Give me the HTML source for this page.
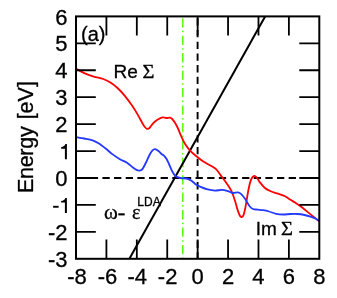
<!DOCTYPE html>
<html><head><meta charset="utf-8">
<style>
html,body{margin:0;padding:0;background:#fff;}
svg{display:block}
text{font-family:"Liberation Sans",sans-serif;fill:#000;stroke:#000;stroke-width:0.3px}
.sym{font-family:"Liberation Serif",serif}
</style></head><body>
<svg style="will-change:transform" width="337" height="298" viewBox="0 0 337 298">
<rect width="337" height="298" fill="#fff"/>
<line x1="182.8" y1="16.4" x2="182.8" y2="258.8" stroke="#55ff00" stroke-width="1.5" stroke-dasharray="9.3 3.32 1.5 3.32" stroke-dashoffset="15.6"/>
<line x1="76.0" y1="178.00" x2="319.3" y2="178.00" stroke="#000" stroke-width="1.9" stroke-dasharray="7.3 4.34" stroke-dashoffset="8.5"/>
<line x1="197.6" y1="16.4" x2="197.6" y2="258.8" stroke="#000" stroke-width="1.9" stroke-dasharray="7.3 4.4" stroke-dashoffset="9.8"/>
<line x1="129.4" y1="258.8" x2="265.1" y2="16.4" stroke="#000" stroke-width="2"/>
<path fill="none" stroke="#ff0000" stroke-width="1.8" stroke-linejoin="round" d="M75.70,68.50 C77.12,69.27 81.20,71.75 84.20,73.10 C87.20,74.45 90.53,75.62 93.70,76.60 C96.87,77.58 100.42,78.00 103.20,79.00 C105.98,80.00 108.02,81.10 110.40,82.60 C112.78,84.10 115.13,85.83 117.50,88.00 C119.87,90.17 122.23,92.75 124.60,95.60 C126.97,98.45 129.52,101.93 131.70,105.10 C133.88,108.27 135.92,111.58 137.70,114.60 C139.48,117.62 141.25,121.17 142.40,123.20 C143.55,125.23 143.85,125.87 144.60,126.80 C145.35,127.73 146.08,128.60 146.90,128.80 C147.72,129.00 148.47,128.92 149.50,128.00 C150.53,127.08 151.72,124.72 153.10,123.30 C154.48,121.88 156.25,120.48 157.80,119.50 C159.35,118.52 161.00,117.65 162.40,117.40 C163.80,117.15 164.97,117.97 166.20,118.00 C167.43,118.03 168.80,117.43 169.80,117.60 C170.80,117.77 171.33,118.13 172.20,119.00 C173.07,119.87 174.03,121.22 175.00,122.80 C175.97,124.38 176.92,126.17 178.00,128.50 C179.08,130.83 180.32,134.23 181.50,136.80 C182.68,139.37 183.70,141.65 185.10,143.90 C186.50,146.15 188.12,148.32 189.90,150.30 C191.68,152.28 193.63,153.98 195.80,155.80 C197.97,157.62 200.53,159.62 202.90,161.20 C205.27,162.78 207.82,163.97 210.00,165.30 C212.18,166.63 214.18,167.48 216.00,169.20 C217.82,170.92 219.08,173.18 220.90,175.60 C222.72,178.02 225.12,181.07 226.90,183.70 C228.68,186.33 230.22,188.43 231.60,191.40 C232.98,194.37 234.20,198.42 235.20,201.50 C236.20,204.58 236.82,207.52 237.60,209.90 C238.38,212.28 239.23,214.62 239.90,215.80 C240.57,216.98 241.00,217.12 241.60,217.00 C242.20,216.88 242.87,216.68 243.50,215.10 C244.13,213.52 244.82,210.35 245.40,207.50 C245.98,204.65 246.45,201.17 247.00,198.00 C247.55,194.83 248.10,191.35 248.70,188.50 C249.30,185.65 249.97,182.80 250.60,180.90 C251.23,179.00 251.83,177.93 252.50,177.10 C253.17,176.27 253.85,175.78 254.60,175.90 C255.35,176.02 256.08,176.68 257.00,177.80 C257.92,178.92 258.78,180.90 260.10,182.60 C261.42,184.30 263.12,186.55 264.90,188.00 C266.68,189.45 268.63,190.35 270.80,191.30 C272.97,192.25 275.53,192.87 277.90,193.70 C280.27,194.53 282.82,195.23 285.00,196.30 C287.18,197.37 289.32,199.05 291.00,200.10 C292.68,201.15 293.23,201.37 295.10,202.60 C296.97,203.83 299.83,205.70 302.20,207.50 C304.57,209.30 307.12,211.63 309.30,213.40 C311.48,215.17 313.63,216.77 315.30,218.10 C316.97,219.43 318.63,220.85 319.30,221.40"/>
<path fill="none" stroke="#2438ff" stroke-width="1.8" stroke-linejoin="round" d="M75.70,137.00 C77.12,137.25 81.38,137.93 84.20,138.50 C87.02,139.07 90.22,139.60 92.60,140.40 C94.98,141.20 96.33,141.95 98.50,143.30 C100.67,144.65 103.23,146.65 105.60,148.50 C107.97,150.35 110.32,152.62 112.70,154.40 C115.08,156.18 117.52,157.82 119.90,159.20 C122.28,160.58 124.83,161.32 127.00,162.70 C129.17,164.08 131.32,166.30 132.90,167.50 C134.48,168.70 135.43,169.38 136.50,169.90 C137.57,170.42 138.32,170.73 139.30,170.60 C140.28,170.47 141.28,170.45 142.40,169.10 C143.52,167.75 144.82,164.85 146.00,162.50 C147.18,160.15 148.45,156.98 149.50,155.00 C150.55,153.02 151.38,151.58 152.30,150.60 C153.22,149.62 153.97,149.03 155.00,149.10 C156.03,149.17 157.43,150.18 158.50,151.00 C159.57,151.82 160.53,153.27 161.40,154.00 C162.27,154.73 162.83,154.57 163.70,155.40 C164.57,156.23 165.68,157.48 166.60,159.00 C167.52,160.52 168.22,162.37 169.20,164.50 C170.18,166.63 171.42,169.83 172.50,171.80 C173.58,173.77 174.38,175.27 175.70,176.30 C177.02,177.33 178.62,177.63 180.40,178.00 C182.18,178.37 184.62,178.10 186.40,178.50 C188.18,178.90 189.52,179.42 191.10,180.40 C192.68,181.38 194.32,183.33 195.90,184.40 C197.48,185.47 198.63,185.97 200.60,186.80 C202.57,187.63 205.32,188.77 207.70,189.40 C210.08,190.03 212.52,190.52 214.90,190.60 C217.28,190.68 219.83,189.80 222.00,189.90 C224.17,190.00 226.12,190.68 227.90,191.20 C229.68,191.72 231.02,192.80 232.70,193.00 C234.38,193.20 236.53,192.18 238.00,192.40 C239.47,192.62 240.30,193.20 241.50,194.30 C242.70,195.40 243.88,197.05 245.20,199.00 C246.52,200.95 248.10,204.33 249.40,206.00 C250.70,207.67 251.62,208.40 253.00,209.00 C254.38,209.60 256.03,209.40 257.70,209.60 C259.37,209.80 261.12,209.88 263.00,210.20 C264.88,210.52 266.82,210.90 269.00,211.50 C271.18,212.10 273.73,213.30 276.10,213.80 C278.47,214.30 280.82,214.47 283.20,214.50 C285.58,214.53 288.02,214.08 290.40,214.00 C292.78,213.92 295.13,213.83 297.50,214.00 C299.87,214.17 302.43,214.57 304.60,215.00 C306.77,215.43 308.72,216.02 310.50,216.60 C312.28,217.18 313.83,217.73 315.30,218.50 C316.77,219.27 318.63,220.75 319.30,221.20"/>
<rect x="76.0" y="16.4" width="243.30" height="242.40" fill="none" stroke="#000" stroke-width="2"/>
<path stroke="#000" stroke-width="1.8" fill="none" d="M106.41,258.80v-19.3 M106.41,16.40v19.1 M136.82,258.80v-19.3 M136.82,16.40v19.1 M167.24,258.80v-19.3 M167.24,16.40v19.1 M197.65,258.80v-19.3 M197.65,16.40v19.1 M228.06,258.80v-19.3 M228.06,16.40v19.1 M258.48,258.80v-19.3 M258.48,16.40v19.1 M288.89,258.80v-19.3 M288.89,16.40v19.1 M76.00,231.87h19.8 M319.30,231.87h-20 M76.00,204.93h19.8 M319.30,204.93h-20 M76.00,178.00h19.8 M319.30,178.00h-20 M76.00,151.07h19.8 M319.30,151.07h-20 M76.00,124.13h19.8 M319.30,124.13h-20 M76.00,97.20h19.8 M319.30,97.20h-20 M76.00,70.27h19.8 M319.30,70.27h-20 M76.00,43.33h19.8 M319.30,43.33h-20 "/>
<g font-size="22" text-anchor="end">
<text x="67.5" y="266.90">-3</text>
<text x="67.5" y="239.97">-2</text>
<text x="67.5" y="186.10">0</text>
<text x="67.5" y="132.23">2</text>
<text x="67.5" y="105.30">3</text>
<text x="67.5" y="78.37">4</text>
<text x="67.5" y="51.43">5</text>
<text x="67.5" y="24.50">6</text>
</g>
<path d="M66.90,213.03 v-15.1 h-1.5 c-0.5,1.8 -2.0,2.8 -4.3,3.1 v1.55 h3.8 v10.45 z" fill="#000"/>
<rect x="53.1" y="205.83" width="5.5" height="1.9" fill="#000"/>
<path d="M66.90,159.17 v-15.1 h-1.5 c-0.5,1.8 -2.0,2.8 -4.3,3.1 v1.55 h3.8 v10.45 z" fill="#000"/>

<g font-size="22" text-anchor="middle">
<text x="77.00" y="283.9">-8</text>
<text x="107.41" y="283.9">-6</text>
<text x="137.22" y="283.9">-4</text>
<text x="167.64" y="283.9">-2</text>
<text x="197.65" y="283.9">0</text>
<text x="228.06" y="283.9">2</text>
<text x="258.48" y="283.9">4</text>
<text x="288.89" y="283.9">6</text>
<text x="319.30" y="283.9">8</text>
</g>
<text font-size="21.5" text-anchor="start" letter-spacing="-0.26" transform="translate(33.4,193.1) rotate(-90)">Energy</text>
<text font-size="21.5" text-anchor="end" transform="translate(33.4,81.1) rotate(-90)">[eV]</text>
<text font-size="20" x="81.0" y="40.5">(a)</text>
<text font-size="19" x="113.5" y="77.5">Re</text>
<text class="sym" font-size="18.2" transform="translate(142.6,77.5) scale(1.13,1)" stroke="#000" stroke-width="0.25">&#931;</text>
<text font-size="19" x="255.8" y="234.7">Im</text>
<text class="sym" font-size="18.2" transform="translate(281.0,234.7) scale(1.13,1)" stroke="#000" stroke-width="0.25">&#931;</text>
<text class="sym" font-size="21" x="104.0" y="218.8" stroke="#000" stroke-width="0.3">&#969;</text>
<rect x="118.3" y="213.3" width="6.4" height="2.1" fill="#000"/>
<text class="sym" font-size="20" x="131.9" y="218.8" stroke="#000" stroke-width="0.3">&#949;</text>
<text font-size="12" x="137.3" y="205.9" stroke="#000" stroke-width="0.2">LDA</text>
</svg>
</body></html>
